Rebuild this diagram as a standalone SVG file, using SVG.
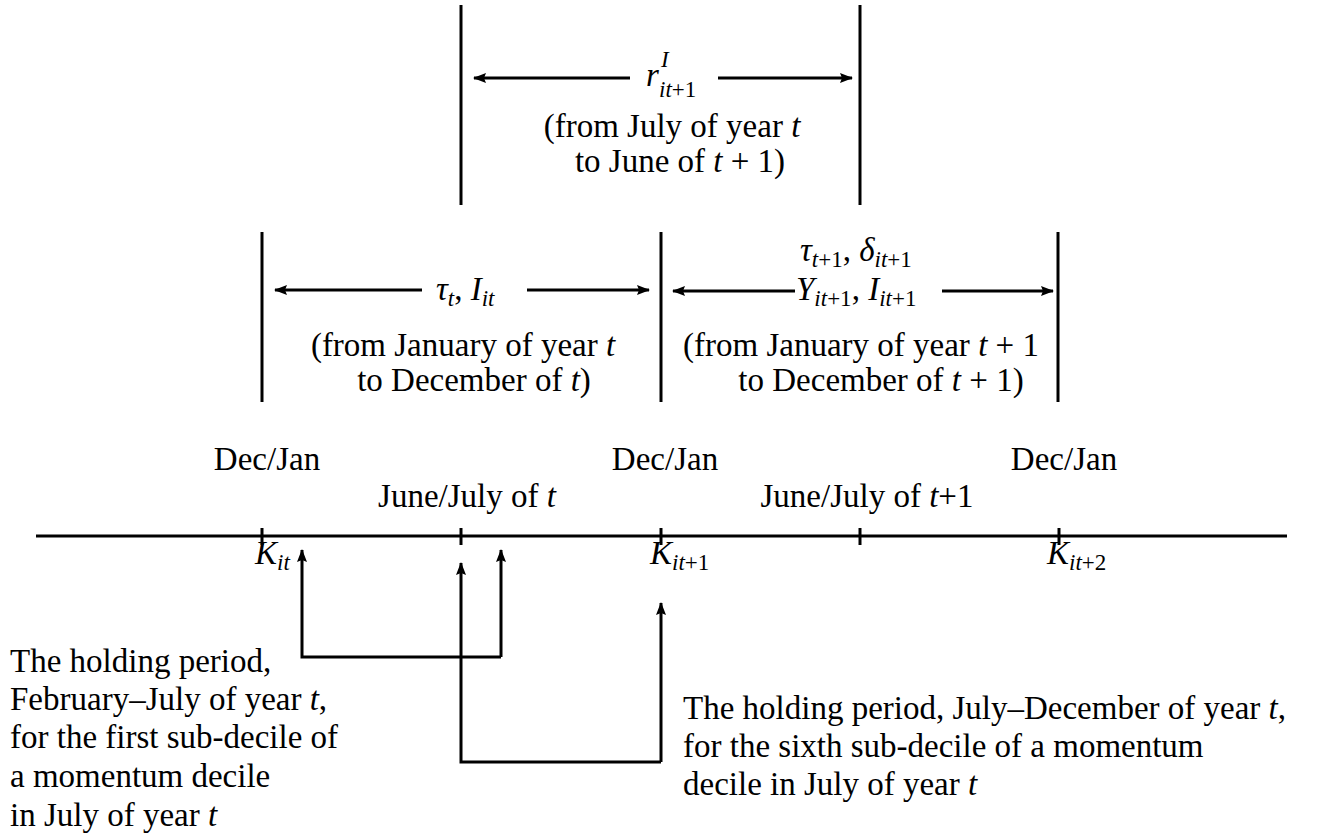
<svg xmlns="http://www.w3.org/2000/svg" width="1327" height="837" viewBox="0 0 1327 837" font-family="'Liberation Serif', 'DejaVu Serif', serif" font-size="33">
<defs>
<marker id="ah" markerUnits="userSpaceOnUse" markerWidth="14" markerHeight="12" refX="12" refY="5" orient="auto" viewBox="0 0 14 10">
<path d="M0,0 L13,5 L0,10 L2,5 Z" fill="#000"/>
</marker>
<style>
.ln{stroke:#000;stroke-width:3;fill:none}
.ar{stroke:#000;stroke-width:3;fill:none;marker-end:url(#ah)}
.m{text-anchor:middle}
.i{font-style:italic}
.s{font-size:23px}
</style>
</defs>
<rect width="1327" height="837" fill="#fff"/>
<g id="connectors">
<line class="ln" x1="36" y1="536" x2="1287" y2="536"/>
<line class="ln" x1="262" y1="528" x2="262" y2="545"/>
<line class="ln" x1="461" y1="528" x2="461" y2="545"/>
<line class="ln" x1="661" y1="528" x2="661" y2="545"/>
<line class="ln" x1="860" y1="528" x2="860" y2="545"/>
<line class="ln" x1="1059" y1="528" x2="1059" y2="545"/>
<line class="ln" x1="461" y1="5" x2="461" y2="205"/>
<line class="ln" x1="860" y1="5" x2="860" y2="205"/>
<line class="ln" x1="262" y1="232" x2="262" y2="402"/>
<line class="ln" x1="661" y1="232" x2="661" y2="402"/>
<line class="ln" x1="1058" y1="232" x2="1058" y2="402"/>
<line class="ar" x1="630" y1="78" x2="474" y2="78"/>
<line class="ar" x1="718" y1="78" x2="852" y2="78"/>
<line class="ar" x1="422" y1="290" x2="275" y2="290"/>
<line class="ar" x1="527" y1="290" x2="649" y2="290"/>
<line class="ar" x1="795" y1="291" x2="673" y2="291"/>
<line class="ar" x1="942" y1="291" x2="1053" y2="291"/>
<path class="ar" d="M501,657 H302 V550"/>
<path class="ar" d="M501,657 V550"/>
<path class="ar" d="M661,762 H461 V563"/>
<path class="ar" d="M661,762 V603"/>
</g>
<g id="top-period">
<text x="646" y="86" class="i">r</text>
<text x="661" y="67" class="i s">I</text>
<text x="659" y="97" class="s"><tspan class="i">it</tspan>+1</text>
<text x="672" y="137" class="m">(from July of year <tspan class="i">t</tspan></text>
<text x="680" y="172" class="m">to June of <tspan class="i">t</tspan> + 1)</text>
</g>
<g id="period-t">
<text x="436" y="300"><tspan class="i">τ</tspan><tspan class="s i" dy="6">t</tspan><tspan dy="-6">, </tspan><tspan class="i">I</tspan><tspan class="s i" dy="6">it</tspan></text>
<text x="463" y="356" class="m">(from January of year <tspan class="i">t</tspan></text>
<text x="474" y="391" class="m">to December of <tspan class="i">t</tspan>)</text>
</g>
<g id="period-t1">
<text x="800" y="261"><tspan class="i">τ</tspan><tspan class="s" dy="6"><tspan class="i">t</tspan>+1</tspan><tspan dy="-6">, </tspan><tspan class="i">δ</tspan><tspan class="s" dy="6"><tspan class="i">it</tspan>+1</tspan></text>
<text x="796" y="300"><tspan class="i">Y</tspan><tspan class="s" dy="6"><tspan class="i">it</tspan>+1</tspan><tspan dy="-6">, </tspan><tspan class="i">I</tspan><tspan class="s" dy="6"><tspan class="i">it</tspan>+1</tspan></text>
<text x="861" y="356" class="m">(from January of year <tspan class="i">t</tspan> + 1</text>
<text x="881" y="391" class="m">to December of <tspan class="i">t</tspan> + 1)</text>
</g>
<g id="dates">
<text x="267" y="470" class="m">Dec/Jan</text>
<text x="665" y="470" class="m">Dec/Jan</text>
<text x="1064" y="470" class="m">Dec/Jan</text>
<text x="467" y="507" class="m">June/July of <tspan class="i">t</tspan></text>
<text x="867" y="507" class="m">June/July of <tspan class="i">t</tspan>+1</text>
</g>
<g id="k-labels">
<text x="255" y="564"><tspan class="i">K</tspan><tspan class="s i" dy="6">it</tspan></text>
<text x="650" y="564"><tspan class="i">K</tspan><tspan class="s" dy="6"><tspan class="i">it</tspan>+1</tspan></text>
<text x="1047" y="564"><tspan class="i">K</tspan><tspan class="s" dy="6"><tspan class="i">it</tspan>+2</tspan></text>
</g>
<g id="note-first">
<text x="10" y="672">The holding period,</text>
<text x="10" y="710">February–July of year <tspan class="i">t</tspan>,</text>
<text x="10" y="748">for the first sub-decile of</text>
<text x="10" y="787">a momentum decile</text>
<text x="10" y="826">in July of year <tspan class="i">t</tspan></text>
</g>
<g id="note-sixth">
<text x="683" y="719">The holding period, July–December of year <tspan class="i">t</tspan>,</text>
<text x="683" y="757">for the sixth sub-decile of a momentum</text>
<text x="683" y="795">decile in July of year <tspan class="i">t</tspan></text>
</g>
</svg>
